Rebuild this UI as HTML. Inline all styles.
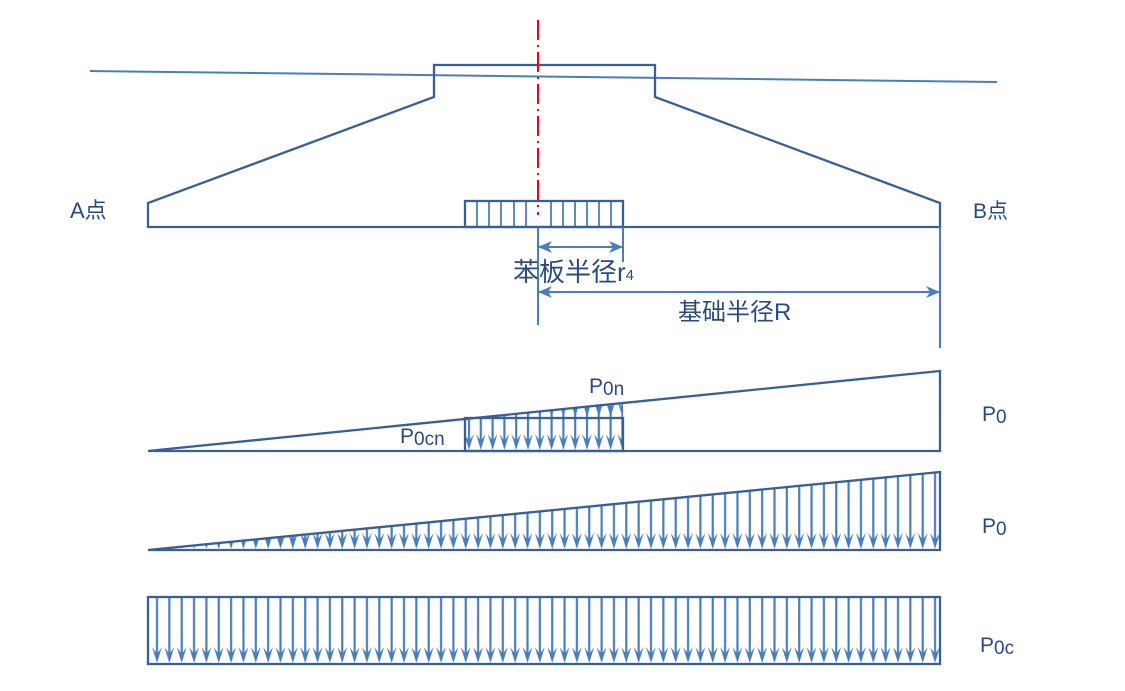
<!DOCTYPE html>
<html><head><meta charset="utf-8"><style>
html,body{margin:0;padding:0;background:#fff;}
svg{display:block;}
text{font-family:"Liberation Sans","Noto Sans CJK SC",sans-serif;fill:#2b4a7e;}
</style></head><body>
<svg width="1125" height="691" viewBox="0 0 1125 691" xmlns="http://www.w3.org/2000/svg">
<defs>
  <marker id="ah" markerWidth="14" markerHeight="12" refX="13" refY="6" orient="auto" markerUnits="userSpaceOnUse">
    <path d="M0,0 L14,6 L0,12 L4,6 Z" fill="#4a7ebb"/>
  </marker>
  <pattern id="pt3" patternUnits="userSpaceOnUse" x="150.83" y="470" width="12.35" height="82">
    <line x1="6.17" y1="0" x2="6.17" y2="72" stroke="#4a7ebb" stroke-width="2.2"/>
    <path d="M1.2,63 L6.17,79 L11.1,63 L6.17,70 Z" fill="#4a7ebb"/>
  </pattern>
  <pattern id="pt4" patternUnits="userSpaceOnUse" x="150.83" y="597" width="12.35" height="70">
    <line x1="6.17" y1="0" x2="6.17" y2="58" stroke="#4a7ebb" stroke-width="2.2"/>
    <path d="M1.2,50 L6.17,66 L11.1,50 L6.17,57 Z" fill="#4a7ebb"/>
  </pattern>
  <pattern id="pt2" patternUnits="userSpaceOnUse" x="463" y="418" width="11.8" height="34">
    <line x1="6" y1="0" x2="6" y2="25" stroke="#4a7ebb" stroke-width="2.2"/>
    <path d="M1.2,16 L6,32 L10.8,16 L6,23 Z" fill="#4a7ebb"/>
  </pattern>
  <pattern id="pt2u" patternUnits="userSpaceOnUse" x="463" y="395" width="11.8" height="23">
    <line x1="6" y1="0" x2="6" y2="23" stroke="#4a7ebb" stroke-width="2.2"/>
    <path d="M1.2,6 L6,22 L10.8,6 L6,13 Z" fill="#4a7ebb"/>
  </pattern>
  <clipPath id="c3"><polygon points="148,550 940,472 940,550"/></clipPath>
  <clipPath id="c2u"><polygon points="465,418 465,418.5 623,402.5 623,418"/></clipPath>
</defs>

<line x1="90" y1="71" x2="997" y2="82" stroke="#4a7ebb" stroke-width="2"/>
<path d="M434,97 L434,65 L655,65 L655,97 L940,203 L940,227 L148,227 L148,203 Z" fill="none" stroke="#3a5f96" stroke-width="2.3"/>
<rect x="465" y="201" width="158" height="26" fill="none" stroke="#3a5f96" stroke-width="2.3"/>
<g stroke="#4a7ebb" stroke-width="1.8">
  <line x1="477" y1="202" x2="477" y2="226"/><line x1="489" y1="202" x2="489" y2="226"/>
  <line x1="501" y1="202" x2="501" y2="226"/><line x1="514" y1="202" x2="514" y2="226"/>
  <line x1="526" y1="202" x2="526" y2="226"/><line x1="551" y1="202" x2="551" y2="226"/>
  <line x1="563" y1="202" x2="563" y2="226"/><line x1="575" y1="202" x2="575" y2="226"/>
  <line x1="587" y1="202" x2="587" y2="226"/><line x1="599" y1="202" x2="599" y2="226"/>
  <line x1="611" y1="202" x2="611" y2="226"/>
</g>
<line x1="538" y1="20" x2="538" y2="215" stroke="#ff0000" stroke-width="2" stroke-dasharray="20,5,2,5"/>
<g stroke="#4a7ebb" stroke-width="2">
  <line x1="538" y1="227" x2="538" y2="325"/>
  <line x1="623" y1="227" x2="623" y2="262"/>
  <line x1="940" y1="227" x2="940" y2="348"/>
  <line x1="540" y1="247" x2="622" y2="247" marker-end="url(#ah)"/>
  <line x1="621" y1="247" x2="539" y2="247" marker-end="url(#ah)"/>
  <line x1="540" y1="292" x2="939" y2="292" marker-end="url(#ah)"/>
  <line x1="938" y1="292" x2="539" y2="292" marker-end="url(#ah)"/>
</g>
<text x="70" y="218" font-size="22">A点</text>
<text x="973" y="218" font-size="21">B点</text>
<text x="513" y="281" font-size="26">苯板半径r<tspan font-size="15" dy="-1">4</tspan></text>
<text x="678" y="320" font-size="24">基础半径R</text>

<rect x="465" y="418" width="158" height="33" fill="url(#pt2)"/>
<rect x="463" y="395" width="162" height="23" fill="url(#pt2u)" clip-path="url(#c2u)"/>
<path d="M148,451 L940,371 L940,451 Z" fill="none" stroke="#3a5f96" stroke-width="2.3"/>
<rect x="465" y="418" width="158" height="33" fill="none" stroke="#3a5f96" stroke-width="2.3"/>
<text x="589" y="393" font-size="21">P<tspan font-size="19" dy="2">0n</tspan></text>
<text x="400" y="443" font-size="21">P<tspan font-size="19" dy="2">0cn</tspan></text>
<text x="982" y="421" font-size="21">P<tspan font-size="19" dy="2">0</tspan></text>

<rect x="148" y="470" width="792" height="82" fill="url(#pt3)" clip-path="url(#c3)"/>
<path d="M148,550 L940,472 L940,550 Z" fill="none" stroke="#3a5f96" stroke-width="2.3"/>
<text x="982" y="533" font-size="21">P<tspan font-size="19" dy="2">0</tspan></text>

<rect x="148" y="597" width="792" height="67" fill="url(#pt4)"/>
<rect x="148" y="597" width="792" height="67" fill="none" stroke="#3a5f96" stroke-width="2.3"/>
<text x="980" y="652" font-size="21">P<tspan font-size="19" dy="2">0c</tspan></text>
</svg>
</body></html>
